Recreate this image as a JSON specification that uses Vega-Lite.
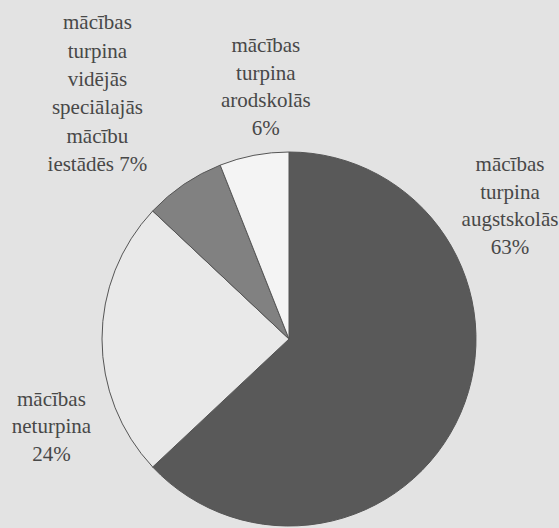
{
  "$schema": "https://vega.github.io/schema/vega-lite/v6.json",
  "width": 374,
  "height": 374,
  "autosize": {"type": "none"},
  "padding": {"left": 102, "top": 152, "right": 83, "bottom": 2},
  "background": "#e3e3e3",
  "config": {"view": {"stroke": null}},
  "data": {
    "values": [
      {"n": 1, "kategorija": "mācības turpina augstskolās", "label": "mācības\nturpina\naugstskolās\n63%", "pct": 63},
      {"n": 2, "kategorija": "mācības neturpina", "label": "mācības\nneturpina\n24%", "pct": 24},
      {"n": 3, "kategorija": "mācības turpina vidējās speciālajās mācību iestādēs", "label": "mācības\nturpina\nvidējās\nspeciālajās\nmācību\niestādēs 7%", "pct": 7},
      {"n": 4, "kategorija": "mācības turpina arodskolās", "label": "mācības\nturpina\narodskolās\n6%", "pct": 6}
    ]
  },
  "transform": [
    {"stack": "pct", "groupby": [], "sort": [{"field": "n", "order": "ascending"}], "as": ["t0", "t1"]}
  ],
  "encoding": {
    "theta": {"field": "t0", "type": "quantitative", "scale": {"domain": [0, 100]}}
  },
  "layer": [
    {
      "mark": {"type": "arc", "outerRadius": 187, "stroke": "#555555", "strokeWidth": 1},
      "encoding": {
        "theta2": {"field": "t1"},
        "color": {
          "field": "kategorija",
          "type": "nominal",
          "scale": {
            "domain": ["mācības turpina augstskolās", "mācības neturpina", "mācības turpina vidējās speciālajās mācību iestādēs", "mācības turpina arodskolās"],
            "range": ["#595959", "#e9e9e9", "#818181", "#f4f4f4"]
          },
          "legend": null
        }
      }
    },
    {
      "transform": [{"filter": "datum.n == 1"}],
      "mark": {"type": "text", "radius": 245, "dx": 221, "dy": 71, "lineBreak": "\n", "font": "Liberation Serif", "fontSize": 21, "lineHeight": 27.5, "fill": "#484848", "align": "center", "baseline": "middle"},
      "encoding": {"text": {"field": "label"}}
    },
    {
      "transform": [{"filter": "datum.n == 2"}],
      "mark": {"type": "text", "radius": 245, "dx": -59, "dy": -107, "lineBreak": "\n", "font": "Liberation Serif", "fontSize": 21, "lineHeight": 27.5, "fill": "#484848", "align": "center", "baseline": "middle"},
      "encoding": {"text": {"field": "label"}}
    },
    {
      "transform": [{"filter": "datum.n == 3"}],
      "mark": {"type": "text", "radius": 245, "dx": -13, "dy": -148, "lineBreak": "\n", "font": "Liberation Serif", "fontSize": 21, "lineHeight": 28.4, "fill": "#484848", "align": "center", "baseline": "middle"},
      "encoding": {"text": {"field": "label"}}
    },
    {
      "transform": [{"filter": "datum.n == 4"}],
      "mark": {"type": "text", "radius": 245, "dx": 67, "dy": -65, "lineBreak": "\n", "font": "Liberation Serif", "fontSize": 21, "lineHeight": 27.5, "fill": "#484848", "align": "center", "baseline": "middle"},
      "encoding": {"text": {"field": "label"}}
    }
  ]
}
